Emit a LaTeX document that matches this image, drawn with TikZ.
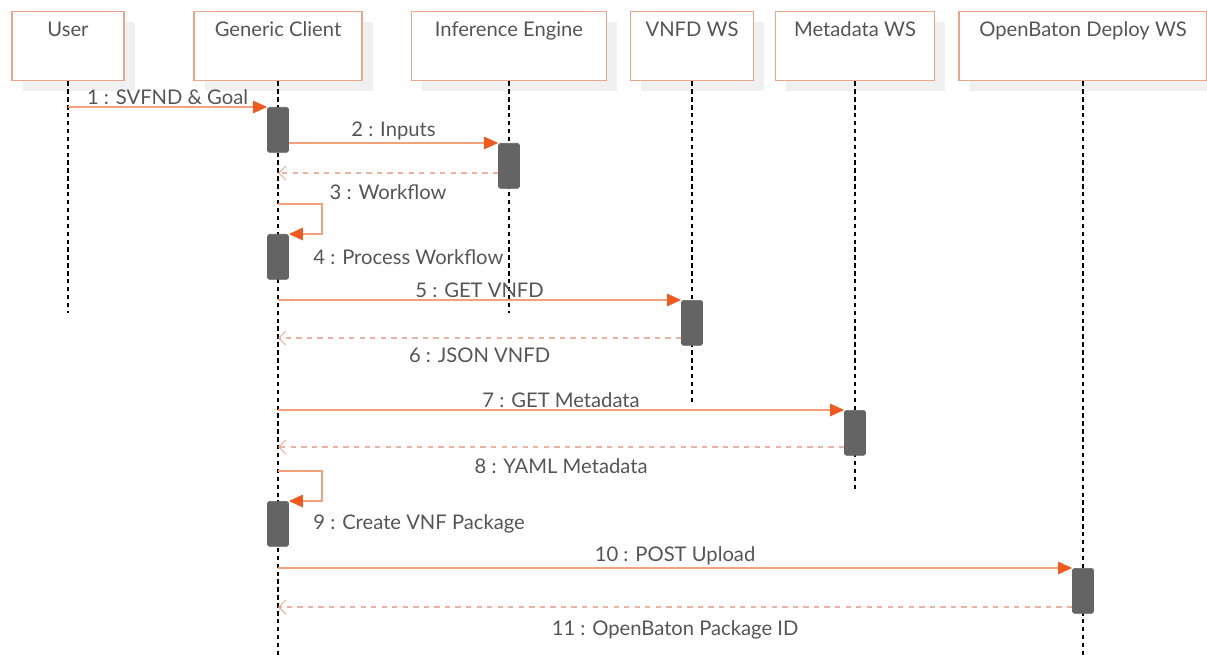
\documentclass[tikz,border=0pt]{standalone}
\usepackage{fontspec}
\setmainfont{Lato}
\usetikzlibrary{arrows.meta,positioning,calc,shadows}
\definecolor{seqline}{RGB}{243,160,125}
\definecolor{seqtip}{RGB}{240,90,30}
\definecolor{seqreply}{RGB}{236,180,160}
\definecolor{seqbox}{RGB}{234,165,138}
\definecolor{seqtext}{RGB}{85,85,85}
\definecolor{seqact}{RGB}{100,100,100}

\begin{document}
\begin{tikzpicture}[x=0.02cm,y=-0.02cm,
  font=\fontsize{11.5}{13}\selectfont, text=seqtext,
  hdr/.style={draw=seqbox,thick,fill=white,anchor=north,inner xsep=0pt,inner ysep=0pt,
    text height=0.5cm,text depth=0.88cm,
    drop shadow={shadow xshift=6pt,shadow yshift=-6pt,fill=black!6,opacity=1}},
  life/.style={draw=black,line width=0.6pt,dash pattern=on 2.5pt off 2pt},
  act/.style={fill=seqact,draw=seqact,rounded corners=1pt,minimum width=0.42cm,
    minimum height=0.9cm,inner sep=0pt,anchor=north},
  msg/.style={draw=seqline,line width=1.1pt,-{Triangle[length=8pt,width=7pt,fill=seqtip,color=seqtip]}},
  reply/.style={draw=seqreply,line width=1pt,dash pattern=on 3pt off 3pt,
    -{Straight Barb[length=4pt,width=8pt,line width=0.7pt]}},
  lbl/.style={inner sep=1pt},
]
  \useasboundingbox (0,0) rectangle (1207,655);

  % lifeline heads
  \node[hdr,minimum width=2.24cm] (user) at (68,11)   {User};
  \node[hdr,minimum width=3.36cm] (client) at (278,11) {Generic Client};
  \node[hdr,minimum width=3.9cm]  (engine) at (509,11) {Inference Engine};
  \node[hdr,minimum width=2.46cm] (vnfd) at (692,11)   {VNFD WS};
  \node[hdr,minimum width=3.18cm] (meta) at (855,11)   {Metadata WS};
  \node[hdr,minimum width=4.96cm] (deploy) at (1083,11) {OpenBaton Deploy WS};

  % lifelines
  \draw[life] (user.south)   -- (user.south |- 0,313);
  \draw[life] (client.south) -- (client.south |- 0,655);
  \draw[life] (engine.south) -- (engine.south |- 0,313);
  \draw[life] (vnfd.south)   -- (vnfd.south |- 0,405);
  \draw[life] (meta.south)   -- (meta.south |- 0,492);
  \draw[life] (deploy.south) -- (deploy.south |- 0,655);

  % activations
  \node[act] (a1) at (client |- 0,107) {};
  \node[act] (a2) at (engine |- 0,143) {};
  \node[act] (a3) at (client |- 0,234) {};
  \node[act] (a4) at (vnfd |- 0,300)   {};
  \node[act] (a5) at (meta |- 0,410)   {};
  \node[act] (a6) at (client |- 0,501) {};
  \node[act] (a7) at (deploy |- 0,568) {};

  % messages
  \draw[msg] (user |- a1.north) -- node[lbl,above] {1 : SVFND \& Goal} (a1.north west);
  \draw[msg] (a1.east |- a2.north) -- node[lbl,above] {2 : Inputs} (a2.north west);
  \draw[reply] (a2.west |- 0,173) -- node[lbl,below=5pt] {3 : Workflow} (client |- 0,173);
  \draw[msg] (client |- 0,204) -- ++(44,0) |- (a3.north east);
  \node[lbl,right=0.45cm of a3] (l4) {4 : Process Workflow};
  \draw[msg] (client |- a4.north) -- node[lbl,above] {5 : GET VNFD} (a4.north west);
  \draw[reply] (a4.west |- 0,338) -- node[lbl,below=4pt] {6 : JSON VNFD} (client |- 0,338);
  \draw[msg] (client |- a5.north) -- node[lbl,above] {7 : GET Metadata} (a5.north west);
  \draw[reply] (a5.west |- 0,447) -- node[lbl,below=5pt] {8 : YAML Metadata} (client |- 0,447);
  \draw[msg] (client |- 0,471) -- ++(44,0) |- (a6.north east);
  \node[lbl,right=0.45cm of a6] (l9) {9 : Create VNF Package};
  \draw[msg] (client |- a7.north) -- node[lbl,above] {10 : POST Upload} (a7.north west);
  \draw[reply] (a7.west |- 0,607) -- node[lbl,below=6pt] {11 : OpenBaton Package ID} (client |- 0,607);
\end{tikzpicture}
\end{document}
